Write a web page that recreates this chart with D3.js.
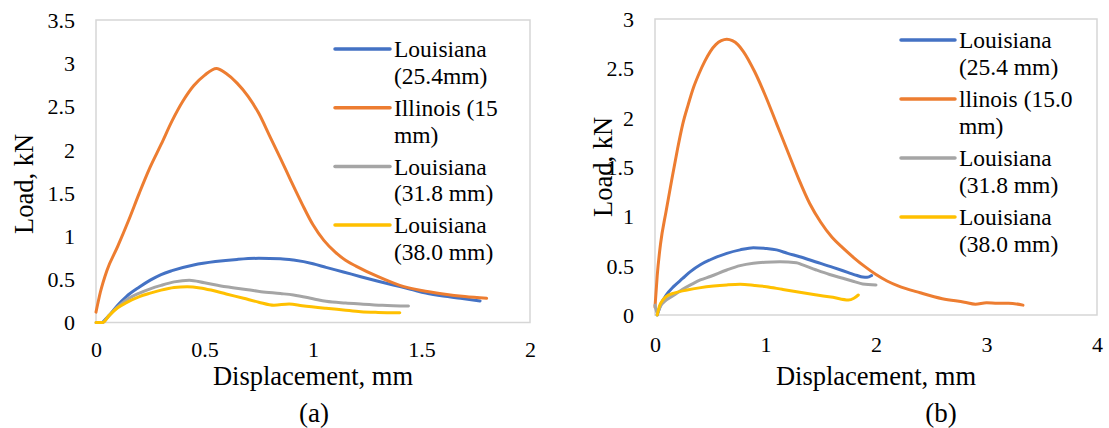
<!DOCTYPE html>
<html>
<head>
<meta charset="utf-8">
<script src="https://cdn.jsdelivr.net/npm/d3@7"></script>
<style>
  html, body { margin: 0; padding: 0; background: #fff; }
  svg { display: block; }
  text { font-family: "Liberation Serif", "Times New Roman", serif; fill: #000; }
</style>
</head>
<body>
<svg id="chart" width="1109" height="428"></svg>
<script>
// Load–displacement curves, [displacement mm, load kN]
const legendLinesA = [["Louisiana", "(25.4mm)"], ["Illinois (15", "mm)"], ["Louisiana", "(31.8 mm)"], ["Louisiana", "(38.0 mm)"]];
const legendLinesB = [["Louisiana", "(25.4 mm)"], ["llinois (15.0", "mm)"], ["Louisiana", "(31.8 mm)"], ["Louisiana", "(38.0 mm)"]];
const seriesColors = ["#4472C4", "#ED7D31", "#A5A5A5", "#FFC000"];

// Panel (a)
const a_louisiana254 = [[0.03,0],[0.06,0.08],[0.1,0.2],[0.14,0.3],[0.2,0.41],[0.25,0.49],[0.3,0.555],[0.35,0.6],[0.45,0.665],[0.55,0.705],[0.65,0.73],[0.75,0.743],[0.85,0.738],[0.91,0.722],[1.0,0.68],[1.06,0.638],[1.14,0.585],[1.22,0.53],[1.3,0.478],[1.37,0.434],[1.45,0.385],[1.52,0.34],[1.6,0.305],[1.68,0.28],[1.77,0.25]];
const a_illinois15 = [[0,0.12],[0.02,0.35],[0.05,0.6],[0.1,0.88],[0.15,1.18],[0.2,1.5],[0.25,1.8],[0.3,2.06],[0.35,2.33],[0.4,2.56],[0.45,2.74],[0.5,2.86],[0.555,2.94],[0.6,2.88],[0.65,2.77],[0.7,2.62],[0.75,2.42],[0.8,2.16],[0.85,1.9],[0.9,1.63],[0.95,1.37],[1.0,1.13],[1.05,0.95],[1.1,0.82],[1.15,0.72],[1.2,0.65],[1.3,0.53],[1.4,0.43],[1.5,0.37],[1.6,0.33],[1.7,0.3],[1.8,0.28]];
const a_louisiana318 = [[0,0],[0.03,0],[0.06,0.08],[0.1,0.18],[0.14,0.26],[0.2,0.34],[0.25,0.39],[0.3,0.43],[0.36,0.47],[0.43,0.49],[0.5,0.46],[0.6,0.414],[0.7,0.38],[0.76,0.357],[0.85,0.335],[0.91,0.318],[1.0,0.275],[1.06,0.245],[1.15,0.225],[1.22,0.214],[1.32,0.2],[1.44,0.19]];
const a_louisiana380 = [[0,0],[0.03,0],[0.06,0.08],[0.1,0.17],[0.14,0.23],[0.2,0.3],[0.25,0.34],[0.3,0.375],[0.36,0.405],[0.42,0.414],[0.48,0.4],[0.53,0.375],[0.6,0.33],[0.68,0.28],[0.75,0.235],[0.82,0.2],[0.89,0.214],[0.95,0.195],[1.06,0.165],[1.14,0.145],[1.22,0.125],[1.3,0.117],[1.4,0.113]];

// Panel (b)
const b_louisiana254 = [[0.02,0],[0.05,0.1],[0.1,0.2],[0.17,0.29],[0.25,0.37],[0.32,0.44],[0.41,0.51],[0.5,0.56],[0.65,0.625],[0.77,0.66],[0.89,0.682],[1.0,0.675],[1.1,0.66],[1.2,0.625],[1.31,0.59],[1.45,0.54],[1.61,0.483],[1.75,0.43],[1.83,0.4],[1.88,0.385],[1.92,0.382],[1.96,0.4]];
const b_illinois150 = [[0,0.08],[0.02,0.4],[0.05,0.72],[0.1,1.05],[0.15,1.36],[0.2,1.66],[0.25,1.93],[0.3,2.13],[0.35,2.31],[0.4,2.45],[0.45,2.57],[0.5,2.67],[0.55,2.74],[0.6,2.78],[0.65,2.795],[0.7,2.78],[0.75,2.74],[0.8,2.67],[0.9,2.47],[1.0,2.22],[1.1,1.94],[1.2,1.66],[1.3,1.38],[1.4,1.13],[1.5,0.94],[1.6,0.79],[1.7,0.68],[1.8,0.58],[1.9,0.49],[2.0,0.41],[2.1,0.345],[2.2,0.295],[2.4,0.225],[2.6,0.165],[2.8,0.13],[2.9,0.11],[3.0,0.125],[3.1,0.12],[3.2,0.12],[3.33,0.1]];
const b_louisiana318 = [[0,0.1],[0.02,0.02],[0.05,0.09],[0.1,0.15],[0.17,0.2],[0.25,0.26],[0.33,0.31],[0.41,0.355],[0.5,0.39],[0.65,0.456],[0.77,0.5],[0.89,0.524],[1.0,0.535],[1.13,0.54],[1.28,0.53],[1.33,0.51],[1.46,0.456],[1.58,0.41],[1.7,0.372],[1.8,0.34],[1.88,0.314],[2.0,0.304]];
const b_louisiana380 = [[0.02,0],[0.04,0.09],[0.07,0.15],[0.1,0.186],[0.18,0.225],[0.29,0.253],[0.4,0.275],[0.53,0.294],[0.65,0.305],[0.77,0.311],[0.9,0.3],[1.01,0.287],[1.15,0.26],[1.31,0.23],[1.45,0.205],[1.61,0.179],[1.75,0.152],[1.8,0.17],[1.84,0.203]];

const xTicksA = [0, 0.5, 1, 1.5, 2];
const yTicksA = [0, 0.5, 1, 1.5, 2, 2.5, 3, 3.5];
const xTicksB = [0, 1, 2, 3, 4];
const yTicksB = [0, 0.5, 1, 1.5, 2, 2.5, 3];

const SERIF = '"Liberation Serif", "Times New Roman", serif';
const svg = d3.select("#chart");

function drawPanel(p) {
  const g = svg.append("g");
  const x = d3.scaleLinear().domain(p.xDomain).range([p.left, p.right]);
  const y = d3.scaleLinear().domain(p.yDomain).range([p.bottom, p.top]);

  // plot-area border
  g.append("rect")
    .attr("x", p.left).attr("y", p.top)
    .attr("width", p.right - p.left).attr("height", p.bottom - p.top)
    .attr("fill", "none").attr("stroke", "#d6d6d6").attr("stroke-width", 1.5);

  // axes (labels only, no tick marks)
  const xAxis = g.append("g")
    .attr("transform", `translate(0,${p.bottom})`)
    .call(d3.axisBottom(x).tickValues(p.xTicks).tickSize(0).tickFormat(d3.format("~g")))
    .attr("font-family", SERIF).attr("font-size", 22);
  xAxis.select(".domain").remove();
  xAxis.selectAll("text")
    .attr("y", p.xTickBase - p.bottom).attr("dy", 0)
    .style("font-family", SERIF).style("font-size", "22px").attr("fill", "#000");

  const yAxis = g.append("g")
    .attr("transform", `translate(${p.left},0)`)
    .call(d3.axisLeft(y).tickValues(p.yTicks).tickSize(0).tickFormat(d3.format("~g")))
    .attr("font-family", SERIF).attr("font-size", 22);
  yAxis.select(".domain").remove();
  yAxis.selectAll("text")
    .attr("x", -21).attr("dy", "0.34em")
    .style("font-family", SERIF).style("font-size", "22px").attr("fill", "#000");

  // series
  const line = d3.line().x(d => x(d[0])).y(d => y(d[1])).curve(d3.curveMonotoneX);
  p.series.forEach((s, i) => {
    g.append("path").datum(s)
      .attr("d", line)
      .attr("fill", "none")
      .attr("stroke", seriesColors[i])
      .attr("stroke-width", 3)
      .attr("stroke-linejoin", "round")
      .attr("stroke-linecap", "round");
  });

  // axis titles
  g.append("text")
    .attr("x", (p.left + p.right) / 2).attr("y", 385)
    .attr("text-anchor", "middle").style("font-size", "26.5px")
    .text("Displacement, mm");
  g.append("text")
    .attr("transform", `translate(${p.yTitleX},${p.yTitleY}) rotate(-90)`)
    .attr("text-anchor", "middle").style("font-size", "26.5px")
    .text("Load, kN");

  // panel letter
  g.append("text")
    .attr("x", p.letterX).attr("y", 422)
    .attr("text-anchor", "middle").style("font-size", "27px")
    .text(p.letter);

  // legend
  const lg = g.append("g").attr("class", "legend");
  p.legend.forEach((lines, i) => {
    const ly = p.legendTop + i * p.legendStep;
    lg.append("line")
      .attr("x1", p.legendX).attr("x2", p.legendX + p.legendLen)
      .attr("y1", ly).attr("y2", ly)
      .attr("stroke", seriesColors[i]).attr("stroke-width", 3.5)
      .attr("stroke-linecap", "round");
    const t = lg.append("text")
      .attr("x", p.legendX + p.legendLen + 4).attr("y", ly + 8.3)
      .style("font-size", "23.5px");
    lines.forEach((ln, j) => {
      t.append("tspan").attr("x", p.legendX + p.legendLen + 4)
        .attr("dy", j === 0 ? 0 : 26.5).text(ln);
    });
  });
}

drawPanel({
  left: 96, right: 530, top: 20, bottom: 322.5,
  xDomain: [0, 2], yDomain: [0, 3.5],
  xTicks: xTicksA, yTicks: yTicksA, xTickBase: 357,
  series: [a_louisiana254, a_illinois15, a_louisiana318, a_louisiana380],
  legend: legendLinesA, legendX: 335, legendLen: 55, legendTop: 49, legendStep: 58.7,
  yTitleX: 33, yTitleY: 184, letter: "(a)", letterX: 314
});

drawPanel({
  left: 655, right: 1097, top: 19, bottom: 315,
  xDomain: [0, 4], yDomain: [0, 3],
  xTicks: xTicksB, yTicks: yTicksB, xTickBase: 352,
  series: [b_louisiana254, b_illinois150, b_louisiana318, b_louisiana380],
  legend: legendLinesB, legendX: 901, legendLen: 54, legendTop: 40, legendStep: 59,
  yTitleX: 612, yTitleY: 167, letter: "(b)", letterX: 941
});
</script>
</body>
</html>
